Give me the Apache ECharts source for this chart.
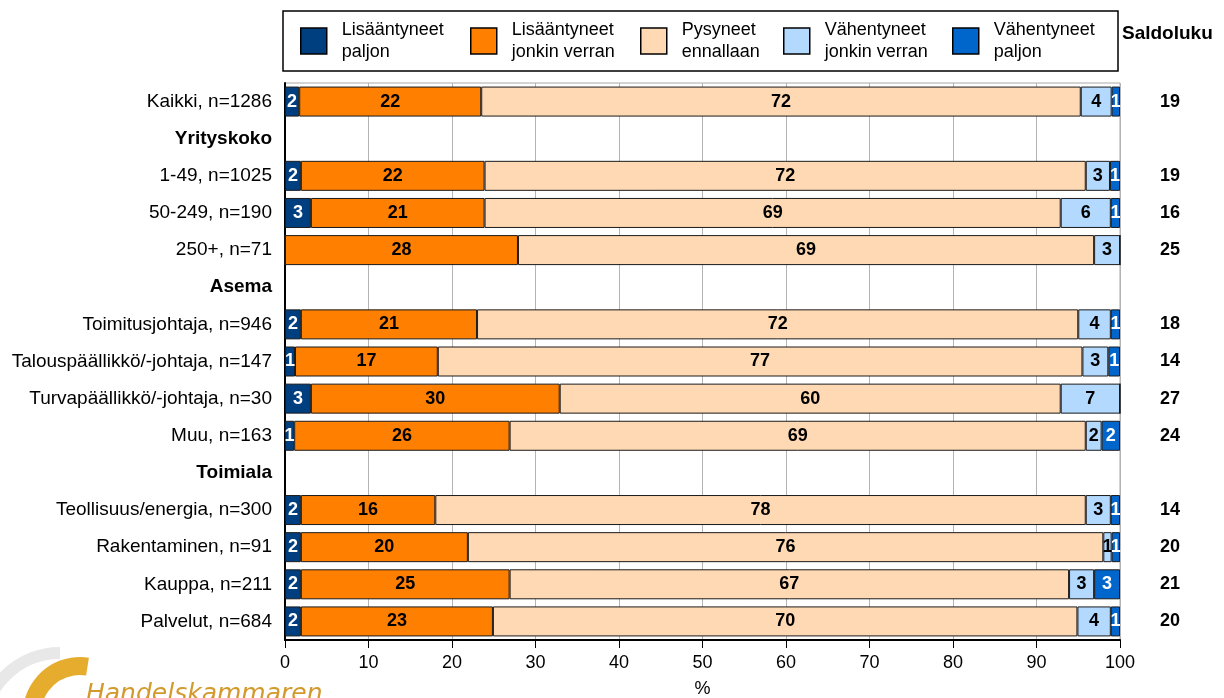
<!DOCTYPE html>
<html>
<head>
<meta charset="utf-8">
<script src="https://cdn.jsdelivr.net/npm/echarts@6/dist/echarts.min.js"></script>
<style>
  html, body { margin: 0; padding: 0; background: #fff; }
  #chart { width: 1224px; height: 698px; }
</style>
</head>
<body>
<div id="chart"></div>
<script>
// rows top to bottom, group headers have no values
const categories = [
  "Kaikki, n=1286", "Yrityskoko", "1-49, n=1025", "50-249, n=190", "250+, n=71",
  "Asema", "Toimitusjohtaja, n=946", "Talouspäällikkö/-johtaja, n=147",
  "Turvapäällikkö/-johtaja, n=30", "Muu, n=163", "Toimiala",
  "Teollisuus/energia, n=300", "Rakentaminen, n=91", "Kauppa, n=211", "Palvelut, n=684"
]
const headers = ["Yrityskoko", "Asema", "Toimiala"]

const seriesNames = [
  "Lisääntyneet paljon", "Lisääntyneet jonkin verran", "Pysyneet ennallaan",
  "Vähentyneet jonkin verran", "Vähentyneet paljon"
]

const lisPaljon = [1.7, null, 1.9, 3.1, 0, null, 1.9, 1.2, 3.1, 1.1, null, 1.9, 1.9, 1.9, 1.9]
const lisJonkin = [21.8, null, 22.0, 20.8, 27.9, null, 21.1, 17.1, 29.8, 25.8, null, 16.1, 20.0, 25.0, 23.0]
const pysyneet = [71.8, null, 72.0, 69.0, 69.0, null, 72.0, 77.2, 60.0, 69.0, null, 77.9, 76.1, 67.0, 70.0]
const vahJonkin = [3.7, null, 2.9, 6.0, 3.1, null, 3.9, 3.1, 7.1, 1.9, null, 3.0, 1.0, 3.0, 4.0]
const vahPaljon = [1.0, null, 1.2, 1.1, 0, null, 1.1, 1.4, 0, 2.2, null, 1.1, 1.0, 3.1, 1.1]

const saldo = [19, null, 19, 16, 25, null, 18, 14, 27, 24, null, 14, 20, 21, 20]

const font = "'Liberation Sans', Arial, sans-serif"
const colors = ["#003f7f", "#ff7f00", "#ffd9b3", "#b3d9ff", "#0066cc"]
const labelColors = ["#fff", "#000", "#000", "#000", "#fff"]
const legendLeft = [300, 470, 640, 783, 952]

const values = [lisPaljon, lisJonkin, pysyneet, vahJonkin, vahPaljon]

const chart = echarts.init(document.getElementById("chart"))

chart.setOption({
  animation: false,
  textStyle: { fontFamily: font },
  grid: {
    left: 285, right: 104, top: 83, bottom: 58,
    outerBoundsMode: "none",
    show: true, borderColor: "#a8a8a8", borderWidth: 1
  },
  legend: seriesNames.map((n, i) => ({
    data: [n],
    left: legendLeft[i],
    top: 19,
    padding: 0,
    itemWidth: 26,
    itemHeight: 26,
    icon: "rect",
    selectedMode: false,
    itemStyle: { borderColor: "#000", borderWidth: 1.5 },
    formatter: name => name.replace(" ", "\n"),
    textStyle: { fontSize: 18, lineHeight: 22, color: "#000", fontFamily: font, padding: [0, 0, 0, 10] }
  })),
  xAxis: {
    type: "value",
    min: 0, max: 100, interval: 10,
    name: "%",
    nameLocation: "middle",
    nameGap: 40,
    nameTextStyle: { fontSize: 18, color: "#000", fontFamily: font },
    axisLine: { show: true, lineStyle: { color: "#000", width: 2 } },
    axisTick: { show: true, length: 8, lineStyle: { color: "#000" } },
    axisLabel: { fontSize: 18, color: "#000", margin: 14, fontFamily: font },
    splitLine: { show: true, lineStyle: { color: "#b4b4b4", width: 1 } }
  },
  yAxis: [
    {
      type: "category",
      data: categories,
      inverse: true,
      axisLine: { show: true, lineStyle: { color: "#000", width: 2 } },
      axisTick: { show: false },
      axisLabel: {
        fontSize: 19, color: "#000", margin: 13, fontFamily: font,
        formatter: v => headers.includes(v) ? "{h|" + v + "}" : v,
        rich: { h: { fontWeight: "bold", fontSize: 19, color: "#000", fontFamily: font } }
      }
    },
    {
      type: "category",
      data: categories,
      inverse: true,
      position: "right",
      axisLine: { show: false },
      axisTick: { show: false },
      axisLabel: {
        fontSize: 18, fontWeight: "bold", color: "#000", margin: 50, align: "center", fontFamily: font,
        formatter: (v, i) => saldo[i] == null ? "" : String(saldo[i])
      }
    }
  ],
  series: seriesNames.map((n, i) => ({
    name: n,
    type: "bar",
    stack: "total",
    barWidth: 30,
    data: values[i],
    itemStyle: { color: colors[i], borderColor: "#1a1a1a", borderWidth: 1 },
    emphasis: { disabled: true },
    label: {
      show: true,
      position: "inside",
      fontSize: 18,
      fontWeight: "bold",
      fontFamily: font,
      color: labelColors[i],
      formatter: p => p.value > 0 ? String(Math.round(p.value)) : ""
    }
  })),
  graphic: [
    {
      type: "rect", z: 0,
      shape: { x: 283, y: 11, width: 835, height: 60 },
      style: { fill: "rgba(0,0,0,0)", stroke: "#000", lineWidth: 1.5 }
    },
    {
      type: "text", left: 1122, top: 24,
      style: { text: "Saldoluku", font: "bold 19px " + font, fill: "#000" }
    },
    {
      type: "arc",
      shape: { cx: 60, cy: 730, r: 77, startAngle: Math.PI, endAngle: Math.PI * 1.5 },
      style: { stroke: "#e8e8e8", lineWidth: 12, fill: null }
    },
    {
      type: "arc",
      shape: { cx: 80, cy: 714, r: 48, startAngle: Math.PI * 0.95, endAngle: Math.PI * 1.55 },
      style: { stroke: "#e6ac2e", lineWidth: 18, fill: null }
    },
    {
      type: "text", left: 86, top: 682,
      style: { text: "Handelskammaren", font: "italic 25px 'DejaVu Sans'", fill: "#d2992c" }
    }
  ]
})
</script>
</body>
</html>
